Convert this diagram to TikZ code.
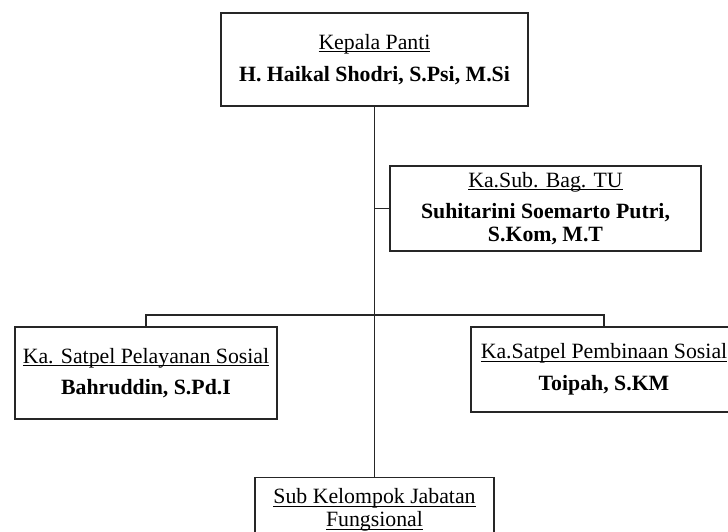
\documentclass[tikz,border=0pt]{standalone}
\usepackage{fontspec}
\setmainfont{Liberation Serif}

\newsavebox\garisbox
\newcommand{\garis}[1]{\sbox\garisbox{#1}\rlap{\rule[-2.8pt]{\wd\garisbox}{0.9pt}}\usebox\garisbox}

\tikzset{
    jabatan/.style={draw=black!85, line width=1.4pt, align=center, inner xsep=0pt,
        font=\fontsize{21.8}{23}\selectfont},
    garis/.style={draw=black!85, line width=1.4pt}
}

\begin{document}
\begin{tikzpicture}[x=1pt,y=-1pt]
    \clip (0,0) rectangle (728,531);

    % kepala panti
    \node[jabatan, minimum width=307pt, minimum height=93pt] (kepala) at (374.5,59.5)
        {\garis{Kepala Panti}\\[9.4pt]\textbf{H. Haikal Shodri, S.Psi, M.Si}};

    % ka.sub.bag. TU
    \node[jabatan, minimum width=311pt, minimum height=85pt] (tu) at (545.5,208.5)
        {\garis{Ka.Sub. Bag. TU}\\[7.7pt]\textbf{Suhitarini Soemarto Putri,}\\\textbf{S.Kom, M.T}};

    % satpel pelayanan
    \node[jabatan, minimum width=262pt, minimum height=92pt] (pelayanan) at (146,373)
        {\garis{Ka. Satpel Pelayanan Sosial}\\[8.3pt]\textbf{Bahruddin, S.Pd.I}};

    % satpel pembinaan
    \node[jabatan, minimum width=266pt, minimum height=85pt] (pembinaan) at (604,369.5)
        {\garis{Ka.Satpel Pembinaan Sosial}\\[9.3pt]\textbf{Toipah, S.KM}};

    % sub kelompok jabatan fungsional
    \node[jabatan, anchor=north, minimum width=239pt, inner ysep=11pt] (fungsional) at (374.5,477)
        {\garis{Sub Kelompok Jabatan}\\\garis{Fungsional}};

    % connectors
    \coordinate (cabang) at (374.5,315);
    \draw[garis] (kepala.south) -- (fungsional.north);
    \draw[garis] (kepala.south |- tu.west) -- (tu.west);
    \draw[garis] (pelayanan.north) |- (cabang) -| (pembinaan.north);
\end{tikzpicture}
\end{document}
